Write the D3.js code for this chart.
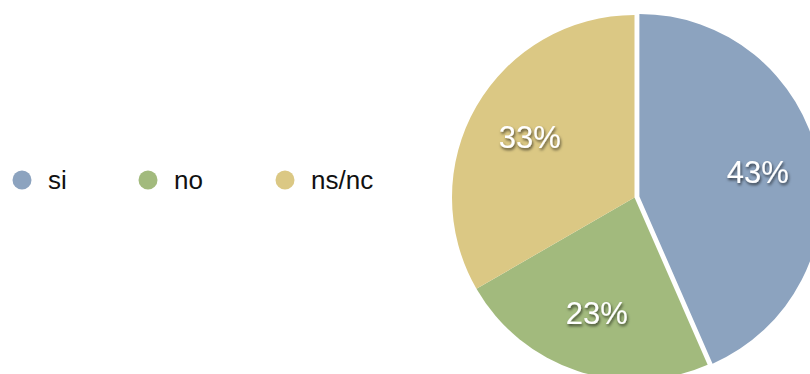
<!DOCTYPE html>
<html>
<head>
<meta charset="utf-8">
<script src="https://cdn.jsdelivr.net/npm/d3@7"></script>
<style>
  html, body { margin: 0; padding: 0; background: #fff; }
  svg { display: block; font-family: "Liberation Sans", Arial, Helvetica, sans-serif; }
</style>
</head>
<body>
<svg id="chart" width="810" height="374"></svg>
<script>
// Survey answers (percent)
const categories = ["si", "no", "ns/nc"];
const values = [43, 23, 33];
const colors = ["#8CA3BF", "#A2BA7D", "#DBC884"];

const svg = d3.select("#chart");

// Soft dark shadow behind the slice labels
const defs = svg.append("defs");
const f = defs.append("filter").attr("id", "shadow")
  .attr("x", "-20%").attr("y", "-20%").attr("width", "140%").attr("height", "160%");
f.append("feDropShadow")
  .attr("dx", 1).attr("dy", 2).attr("stdDeviation", 1.4)
  .attr("flood-color", "#000").attr("flood-opacity", 0.65);

const cx = 634.5, cy = 197.5, r = 182.5;
const explode = [5, 0, 0];
const labelR = 121;

const color = d3.scaleOrdinal().domain(categories).range(colors);
const pie = d3.pie().sort(null).value(d => d.value);
const arcs = pie(categories.map((c, i) => ({ cat: c, value: values[i], explode: explode[i] })));
const arc = d3.arc().innerRadius(0).outerRadius(r);
const labelArc = d3.arc().innerRadius(labelR).outerRadius(labelR);

const g = svg.append("g").attr("transform", `translate(${cx},${cy})`);

function offset(d) {
  const a = (d.startAngle + d.endAngle) / 2;
  return [Math.sin(a) * d.data.explode, -Math.cos(a) * d.data.explode];
}

g.selectAll("path.slice").data(arcs).join("path")
  .attr("class", "slice")
  .attr("d", arc)
  .attr("fill", d => color(d.data.cat))
  .attr("transform", d => `translate(${offset(d)})`);

g.selectAll("text.pct").data(arcs).join("text")
  .attr("class", "pct")
  .attr("transform", d => {
    const [x, y] = labelArc.centroid(d);
    const [ox, oy] = offset(d);
    return `translate(${x + ox},${y + oy})`;
  })
  .attr("text-anchor", "middle")
  .attr("dy", "0.36em")
  .attr("font-size", 31)
  .attr("fill", "#fff")
  .attr("filter", "url(#shadow)")
  .text(d => d.data.value + "%");

// Legend
const legendPos = [22, 148, 285];
const legend = svg.append("g").selectAll("g").data(categories).join("g")
  .attr("transform", (d, i) => `translate(${legendPos[i]},180)`);
legend.append("circle").attr("r", 9.5).attr("fill", d => color(d));
legend.append("text")
  .attr("x", 26).attr("y", 9)
  .attr("font-size", 26)
  .attr("fill", "#111")
  .text(d => d);
</script>
</body>
</html>
